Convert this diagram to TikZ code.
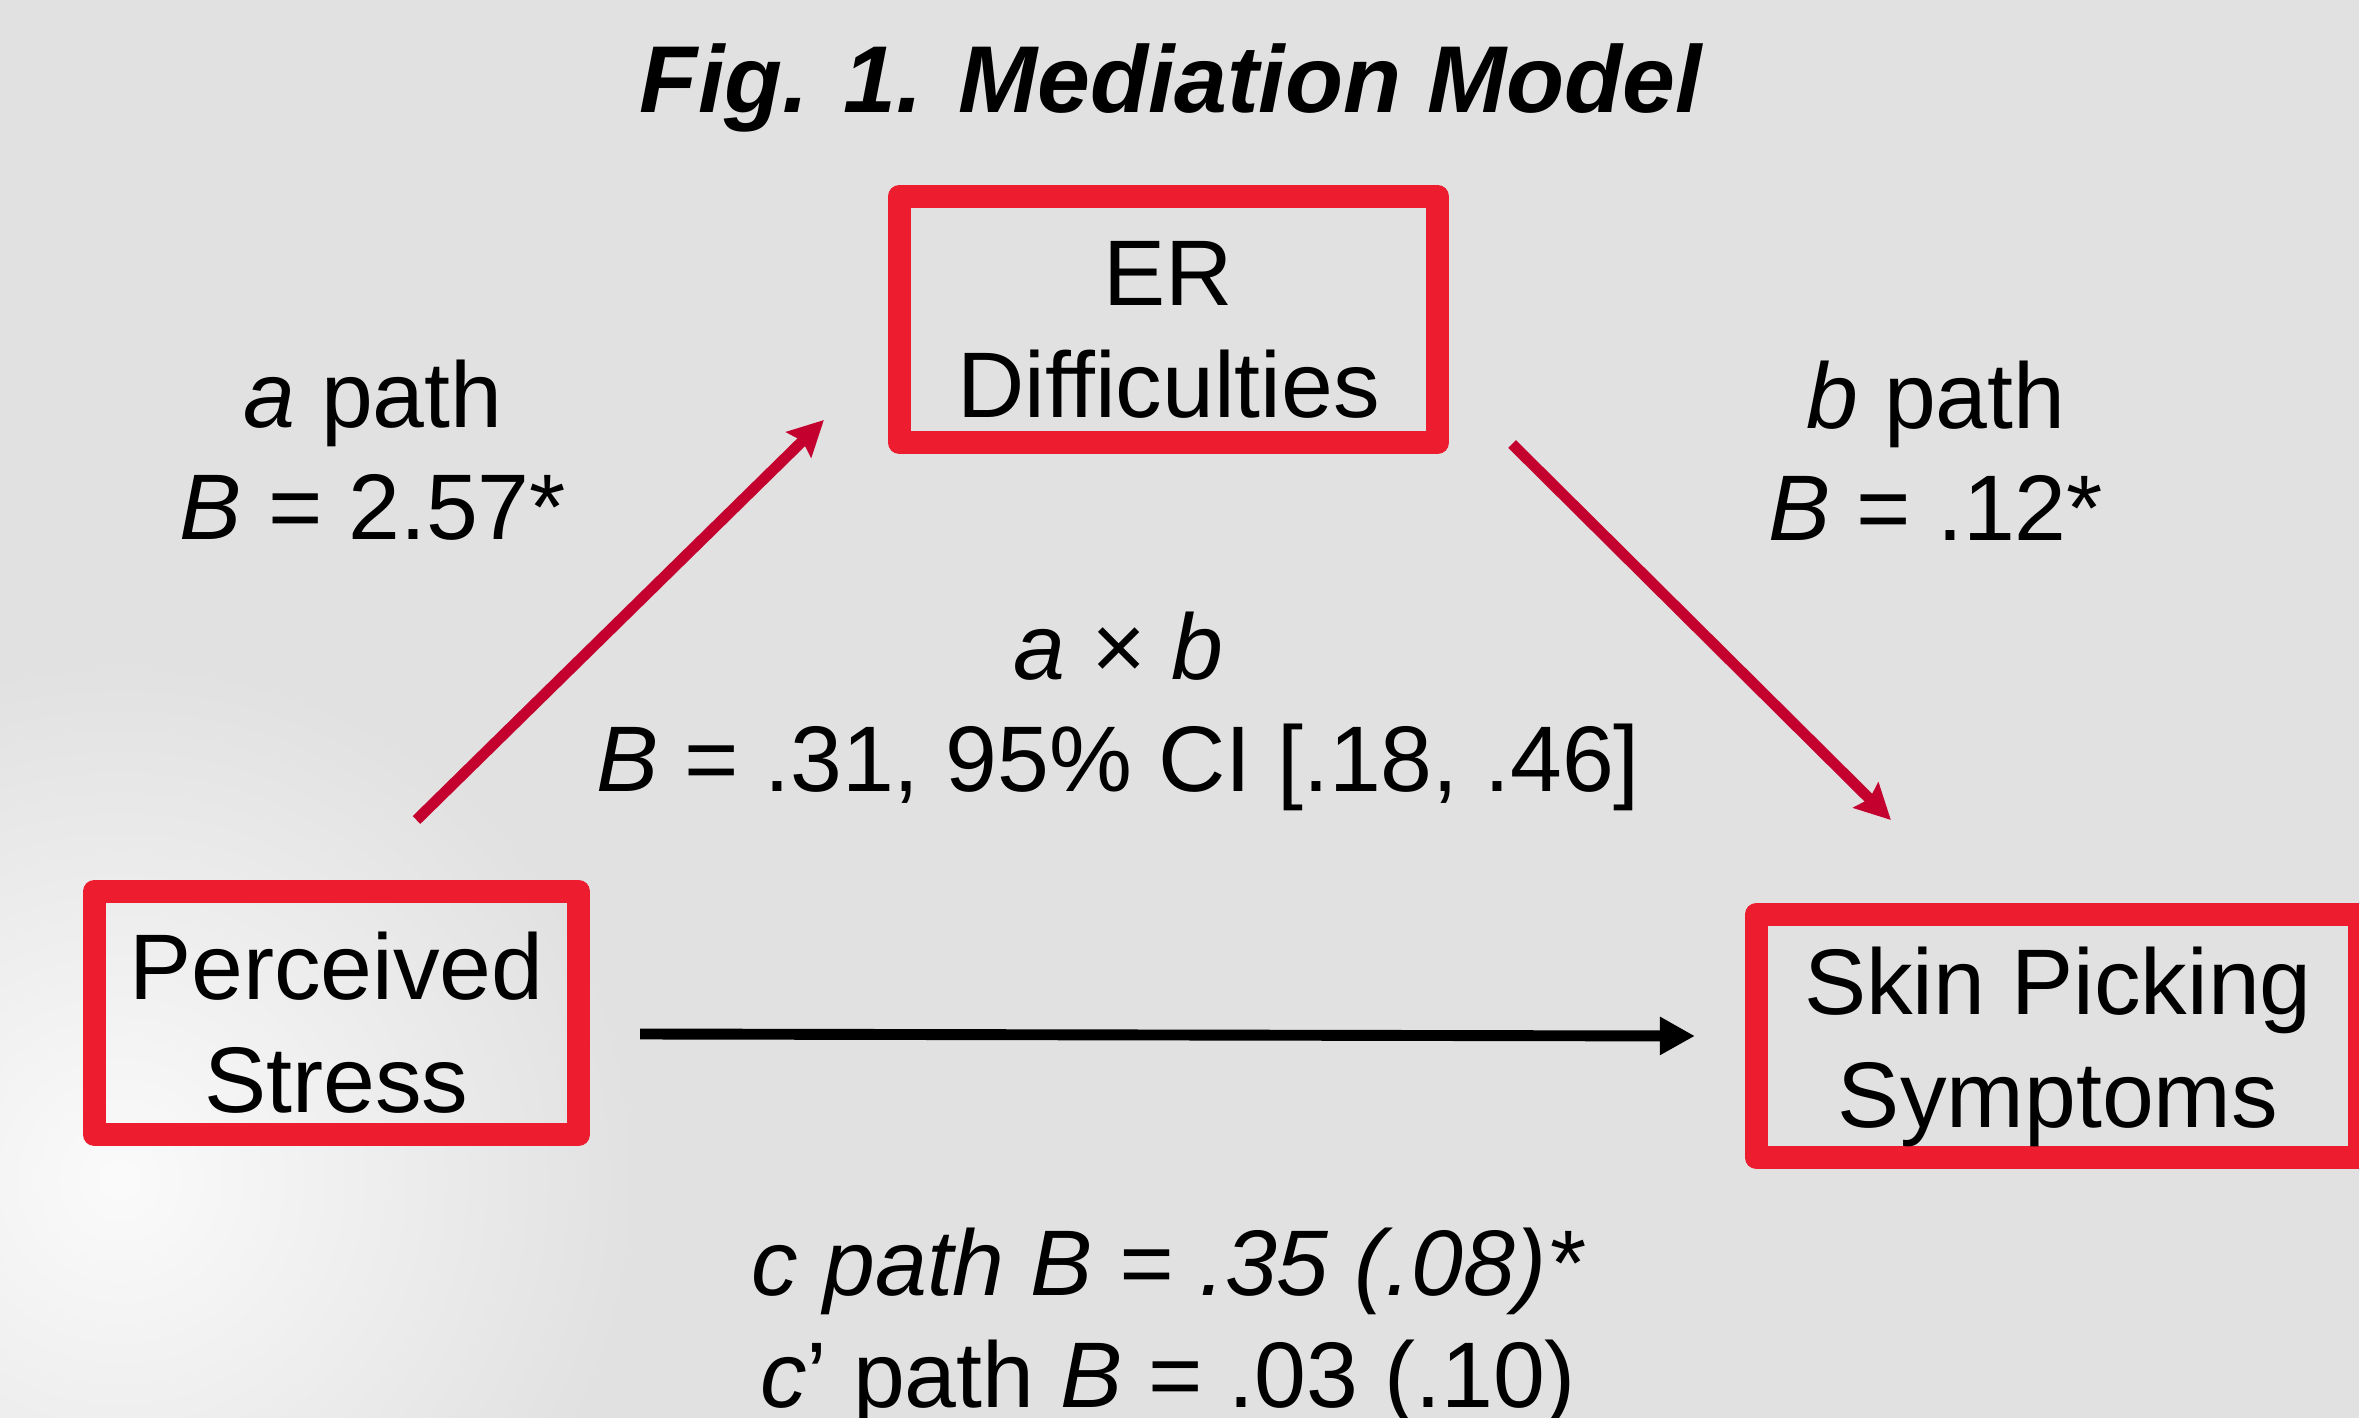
\documentclass[tikz,border=0pt]{standalone}
\usepackage{fontspec}
\setmainfont{Liberation Sans}
\usepackage{tikz}
\usetikzlibrary{arrows.meta,calc}
\definecolor{bgc}{HTML}{E1E1E1}
\definecolor{boxred}{HTML}{ED1C2E}
\definecolor{pathred}{HTML}{C4002F}
\newcommand{\bigtxt}{\fontsize{26.5pt}{31.9pt}\selectfont}
\tikzset{
  varbox/.style={draw=boxred, line width=6.5pt, line join=round, align=center,
                 font=\bigtxt, text depth=0pt, inner sep=0pt},
  lbl/.style={align=center, font=\bigtxt, inner sep=0pt},
  patharr/.style={-{Stealth[length=0.35cm, width=0.35cm, inset=0.05cm]}, draw=pathred, line width=3.1pt},
  direct/.style={-{Triangle[length=0.35cm, width=0.36cm]}, draw=black, line width=3.1pt},
}
\begin{document}
\begin{tikzpicture}[x=0.01cm, y=-0.01cm]
  \useasboundingbox (0,0) rectangle (2359,1418);
  \fill[bgc] (0,0) rectangle (2359,1418);
  \shade[inner color=white!85!bgc, outer color=bgc] (120,1180) circle (520);
  % title
  \node[font=\fontsize{27pt}{32pt}\selectfont\bfseries\itshape, anchor=base] (title) at (1171,113) {Fig. 1. Mediation Model};
  % variables
  \node[varbox, minimum width=4.84cm, minimum height=2.43cm, text height=1.98cm] (stress) at (336.5,1013) {Perceived\\Stress};
  \node[varbox, minimum width=5.38cm, minimum height=2.46cm, text height=1.96cm] (er) at (1168.5,319.5) {ER\\Difficulties};
  \node[varbox, minimum width=6.03cm, minimum height=2.43cm, text height=1.82cm] (skin) at (2058,1036) {Skin Picking\\Symptoms};
  % path estimates
  \node[lbl] (apath) at (373,450.5) {\textit{a} path\\\textit{B} = 2.57*};
  \node[lbl] (bpath) at (1936,450.5) {\textit{b} path\\\textit{B} = .12*};
  \node[lbl] (ab) at (1118,711) {\textit{a × b}\\\textit{B} = .31, 95\% CI [.18, .46]};
  \node[lbl] (cpath) at (1168,1327) {\textit{c path B = .35 (.08)*}\\\textit{c}’ path \textit{B} = .03 (.10)};
  \coordinate (a0) at ([shift={(80,-60)}]stress.north);
  \coordinate (a1) at ([shift={(-64,-34)}]er.south west);
  \coordinate (b0) at ([shift={(63,-10)}]er.south east);
  \coordinate (b1) at ([shift={(146,-83)}]skin.north west);
  \coordinate (c0) at ([shift={(50,21)}]stress.east);
  \coordinate (c1) at ([shift={(-50,0)}]skin.west);
  \draw[patharr] (a0) -- (a1);
  \draw[patharr] (b0) -- (b1);
  \draw[direct] (c0) -- (c1);
\end{tikzpicture}
\end{document}
